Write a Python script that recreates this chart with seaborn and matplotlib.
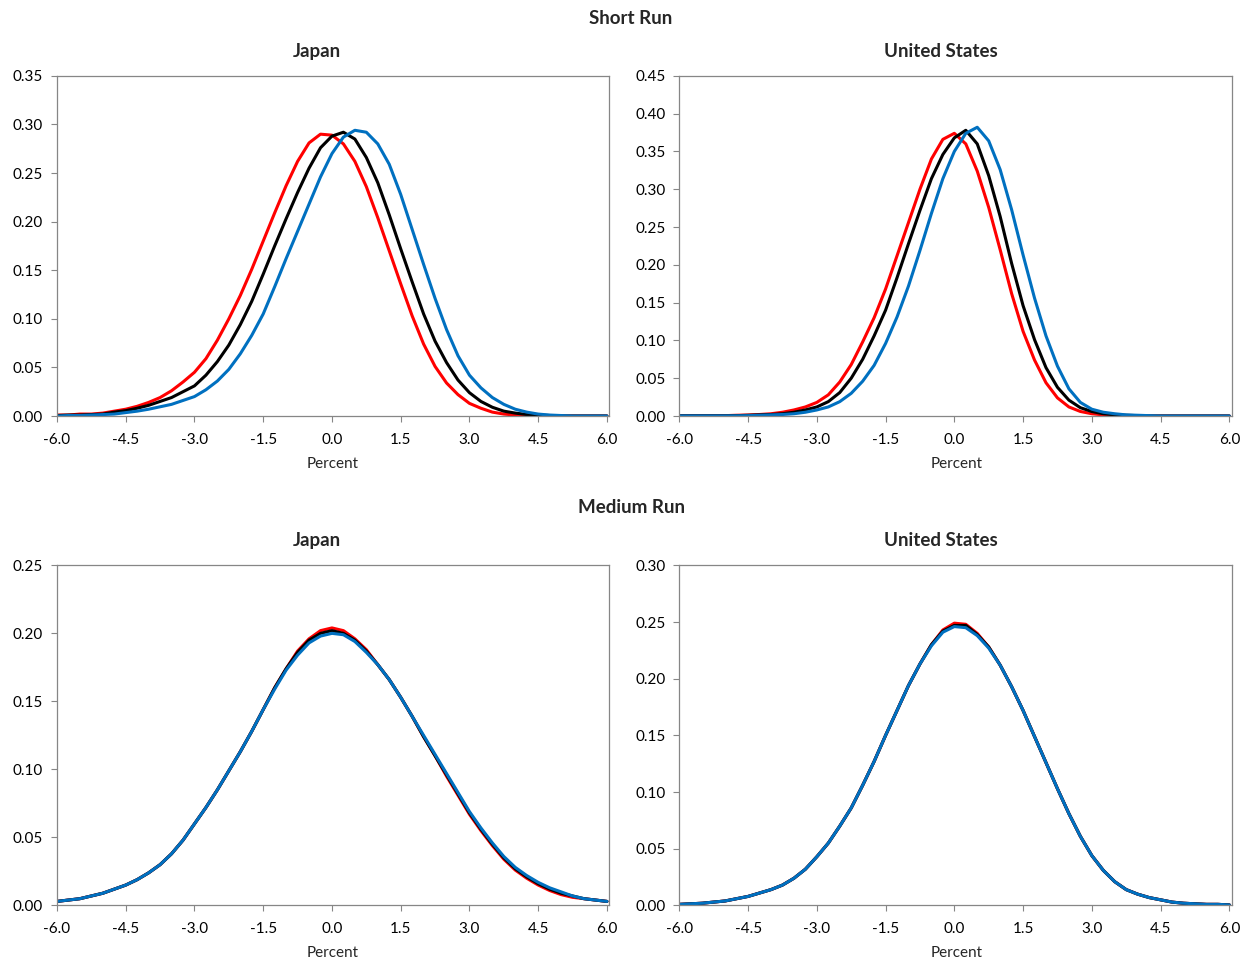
import numpy as np
import pandas as pd
import seaborn as sns
import matplotlib
matplotlib.use("Agg")
import matplotlib.pyplot as plt
from matplotlib.ticker import FormatStrFormatter

sns.set_style("white")
plt.rcParams['font.family'] = ['Lato', 'DejaVu Sans']

# sample points on the horizontal axis (percent)
x_grid = np.arange(-6, 6.001, 0.25)

# Short run, Japan
sr_jp_red = [0.001, 0.001, 0.002, 0.002, 0.003, 0.005, 0.007, 0.010, 0.014, 0.019, 0.026, 0.035,
             0.045, 0.059, 0.078, 0.100, 0.124, 0.151, 0.180, 0.209, 0.237, 0.262, 0.281, 0.290,
             0.289, 0.280, 0.262, 0.236, 0.204, 0.170, 0.136, 0.103, 0.074, 0.051, 0.034, 0.022,
             0.013, 0.008, 0.004, 0.002, 0.001, 0.0005, 0, 0, 0, 0, 0, 0, 0]
sr_jp_black = [0.0005, 0.001, 0.001, 0.0015, 0.002, 0.004, 0.0055, 0.008, 0.011, 0.015, 0.019, 0.025,
               0.031, 0.042, 0.056, 0.073, 0.094, 0.118, 0.146, 0.175, 0.203, 0.230, 0.255, 0.276,
               0.288, 0.292, 0.285, 0.266, 0.240, 0.207, 0.172, 0.138, 0.105, 0.077, 0.055, 0.037,
               0.024, 0.015, 0.009, 0.005, 0.003, 0.0015, 0.001, 0.0005, 0, 0, 0, 0, 0]
sr_jp_blue = [0, 0.0005, 0.0005, 0.001, 0.0015, 0.002, 0.0035, 0.005, 0.007, 0.0095, 0.012, 0.016,
              0.020, 0.027, 0.036, 0.048, 0.064, 0.083, 0.105, 0.133, 0.162, 0.190, 0.218, 0.246,
              0.270, 0.287, 0.294, 0.292, 0.280, 0.259, 0.228, 0.192, 0.156, 0.121, 0.089, 0.062,
              0.042, 0.029, 0.019, 0.012, 0.007, 0.004, 0.002, 0.001, 0.0005, 0, 0, 0, 0]

# Short run, United States
sr_us_red = [0.0005, 0.0005, 0.0005, 0.0005, 0.0005, 0.001, 0.0013, 0.002, 0.003, 0.005, 0.008, 0.012,
             0.018, 0.028, 0.045, 0.068, 0.098, 0.130, 0.168, 0.212, 0.256, 0.300, 0.340, 0.366,
             0.374, 0.360, 0.324, 0.276, 0.220, 0.162, 0.112, 0.074, 0.044, 0.024, 0.012, 0.006,
             0.003, 0.0015, 0.001, 0.0005, 0, 0, 0, 0, 0, 0, 0, 0, 0]
sr_us_black = [0.0003, 0.0003, 0.0003, 0.0003, 0.0003, 0.0005, 0.001, 0.0015, 0.002, 0.003, 0.005, 0.008,
               0.012, 0.019, 0.031, 0.050, 0.075, 0.106, 0.140, 0.183, 0.228, 0.272, 0.314, 0.346,
               0.368, 0.378, 0.360, 0.318, 0.264, 0.202, 0.146, 0.101, 0.064, 0.038, 0.021, 0.011,
               0.006, 0.003, 0.0015, 0.001, 0.0005, 0, 0, 0, 0, 0, 0, 0, 0]
sr_us_blue = [0.0002, 0.0002, 0.0002, 0.0002, 0.0002, 0.0003, 0.0005, 0.001, 0.0015, 0.002, 0.003, 0.005,
              0.008, 0.012, 0.019, 0.030, 0.046, 0.067, 0.096, 0.131, 0.172, 0.219, 0.268, 0.314,
              0.350, 0.374, 0.382, 0.364, 0.326, 0.273, 0.213, 0.156, 0.106, 0.066, 0.036, 0.018,
              0.009, 0.005, 0.003, 0.0015, 0.001, 0.0005, 0, 0, 0, 0, 0, 0, 0]

# Medium run, Japan
mr_jp_red = [0.003, 0.004, 0.005, 0.007, 0.009, 0.012, 0.015, 0.019, 0.024, 0.030, 0.038, 0.048,
             0.060, 0.072, 0.085, 0.099, 0.113, 0.128, 0.144, 0.160, 0.174, 0.187, 0.196, 0.202,
             0.204, 0.202, 0.196, 0.188, 0.177, 0.166, 0.153, 0.139, 0.124, 0.110, 0.095, 0.081,
             0.067, 0.055, 0.044, 0.034, 0.026, 0.020, 0.015, 0.011, 0.008, 0.006, 0.005, 0.004, 0.003]
mr_jp_black = [0.003, 0.004, 0.005, 0.007, 0.009, 0.012, 0.015, 0.019, 0.024, 0.030, 0.038, 0.048,
               0.060, 0.072, 0.085, 0.099, 0.113, 0.128, 0.144, 0.160, 0.174, 0.186, 0.195, 0.200,
               0.202, 0.200, 0.195, 0.187, 0.177, 0.166, 0.153, 0.139, 0.124, 0.110, 0.096, 0.082,
               0.068, 0.056, 0.045, 0.035, 0.027, 0.021, 0.016, 0.012, 0.009, 0.007, 0.005, 0.004, 0.003]
mr_jp_blue = [0.003, 0.004, 0.005, 0.007, 0.009, 0.012, 0.015, 0.019, 0.024, 0.030, 0.038, 0.048,
              0.060, 0.072, 0.085, 0.099, 0.113, 0.128, 0.144, 0.159, 0.173, 0.184, 0.193, 0.198,
              0.200, 0.199, 0.194, 0.186, 0.177, 0.166, 0.153, 0.139, 0.125, 0.111, 0.097, 0.083,
              0.069, 0.057, 0.046, 0.036, 0.028, 0.022, 0.017, 0.013, 0.010, 0.007, 0.005, 0.004, 0.003]

# Medium run, United States
mr_us_red = [0.001, 0.0015, 0.002, 0.003, 0.004, 0.006, 0.008, 0.011, 0.014, 0.018, 0.024, 0.032,
             0.043, 0.055, 0.070, 0.086, 0.106, 0.127, 0.150, 0.172, 0.194, 0.213, 0.230, 0.243,
             0.249, 0.248, 0.240, 0.228, 0.212, 0.193, 0.172, 0.149, 0.126, 0.103, 0.081, 0.061,
             0.044, 0.031, 0.021, 0.014, 0.010, 0.007, 0.005, 0.003, 0.002, 0.0015, 0.001, 0.001, 0.0005]
mr_us_black = [0.001, 0.0015, 0.002, 0.003, 0.004, 0.006, 0.008, 0.011, 0.014, 0.018, 0.024, 0.032,
               0.043, 0.055, 0.070, 0.086, 0.106, 0.127, 0.150, 0.172, 0.194, 0.213, 0.230, 0.242,
               0.247, 0.247, 0.239, 0.228, 0.212, 0.193, 0.172, 0.149, 0.126, 0.103, 0.081, 0.061,
               0.044, 0.031, 0.021, 0.014, 0.010, 0.007, 0.005, 0.003, 0.002, 0.0015, 0.001, 0.001, 0.0005]
mr_us_blue = [0.001, 0.0015, 0.002, 0.003, 0.004, 0.006, 0.008, 0.011, 0.014, 0.018, 0.024, 0.032,
              0.043, 0.055, 0.070, 0.086, 0.106, 0.127, 0.150, 0.172, 0.194, 0.213, 0.229, 0.241,
              0.246, 0.245, 0.238, 0.227, 0.212, 0.193, 0.172, 0.149, 0.126, 0.103, 0.081, 0.061,
              0.044, 0.031, 0.021, 0.014, 0.010, 0.007, 0.005, 0.003, 0.002, 0.0015, 0.001, 0.001, 0.0005]

x_ticks = [-6.0, -4.5, -3.0, -1.5, 0.0, 1.5, 3.0, 4.5, 6.0]
colors = {"red": "#FF0000", "black": "#000000", "blue": "#0070C0"}

panels = [
    # left, bottom, ymax, curves
    (0.0455, 0.5662, 0.35, [sr_jp_red, sr_jp_black, sr_jp_blue]),
    (0.5426, 0.5662, 0.45, [sr_us_red, sr_us_black, sr_us_blue]),
    (0.0455, 0.0558, 0.25, [mr_jp_red, mr_jp_black, mr_jp_blue]),
    (0.5426, 0.0558, 0.30, [mr_us_red, mr_us_black, mr_us_blue]),
]

fig = plt.figure(figsize=(12.52, 9.59), dpi=100)

for left, bottom, ymax, curves in panels:
    ax = fig.add_axes([left, bottom, 0.4413, 0.3547])
    for name, vals in zip(["red", "black", "blue"], curves):
        df = pd.DataFrame({"x": x_grid, "y": vals})
        sns.lineplot(data=df, x="x", y="y", color=colors[name], linewidth=2.2, ax=ax,
                     solid_joinstyle='round', solid_capstyle='round')
    ax.set_xlim(-6, 6.055)
    ax.set_ylim(0, ymax)
    ax.set_xticks(x_ticks)
    ax.set_yticks(np.arange(0, ymax + 0.001, 0.05))
    ax.xaxis.set_major_formatter(FormatStrFormatter('%.1f'))
    ax.yaxis.set_major_formatter(FormatStrFormatter('%.2f'))
    ax.tick_params(direction='out', length=4, width=0.8, color='#868686',
                   labelsize=11, labelcolor='#000000', bottom=True, left=True)
    ax.tick_params(axis='x', pad=8)
    ax.tick_params(axis='y', pad=6)
    for s in ax.spines.values():
        s.set_color('#868686')
        s.set_linewidth(0.9)
    ax.set_xlabel("")
    ax.set_ylabel("")

# titles
fig.text(0.504, 0.9802, "Short Run", ha='center', va='center', fontsize=13.5, fontweight='bold')
fig.text(0.504, 0.4703, "Medium Run", ha='center', va='center', fontsize=13.5, fontweight='bold')
for ty in [0.9458, 0.4359]:
    fig.text(0.2532, ty, "Japan", ha='center', va='center', fontsize=13.5, fontweight='bold')
    fig.text(0.7516, ty, "United States", ha='center', va='center', fontsize=13.5, fontweight='bold')
for py in [0.5162, 0.0062]:
    fig.text(0.266, py, "Percent", ha='center', va='center', fontsize=11)
    fig.text(0.764, py, "Percent", ha='center', va='center', fontsize=11)

fig.savefig("out.png", dpi=100, facecolor='white')
